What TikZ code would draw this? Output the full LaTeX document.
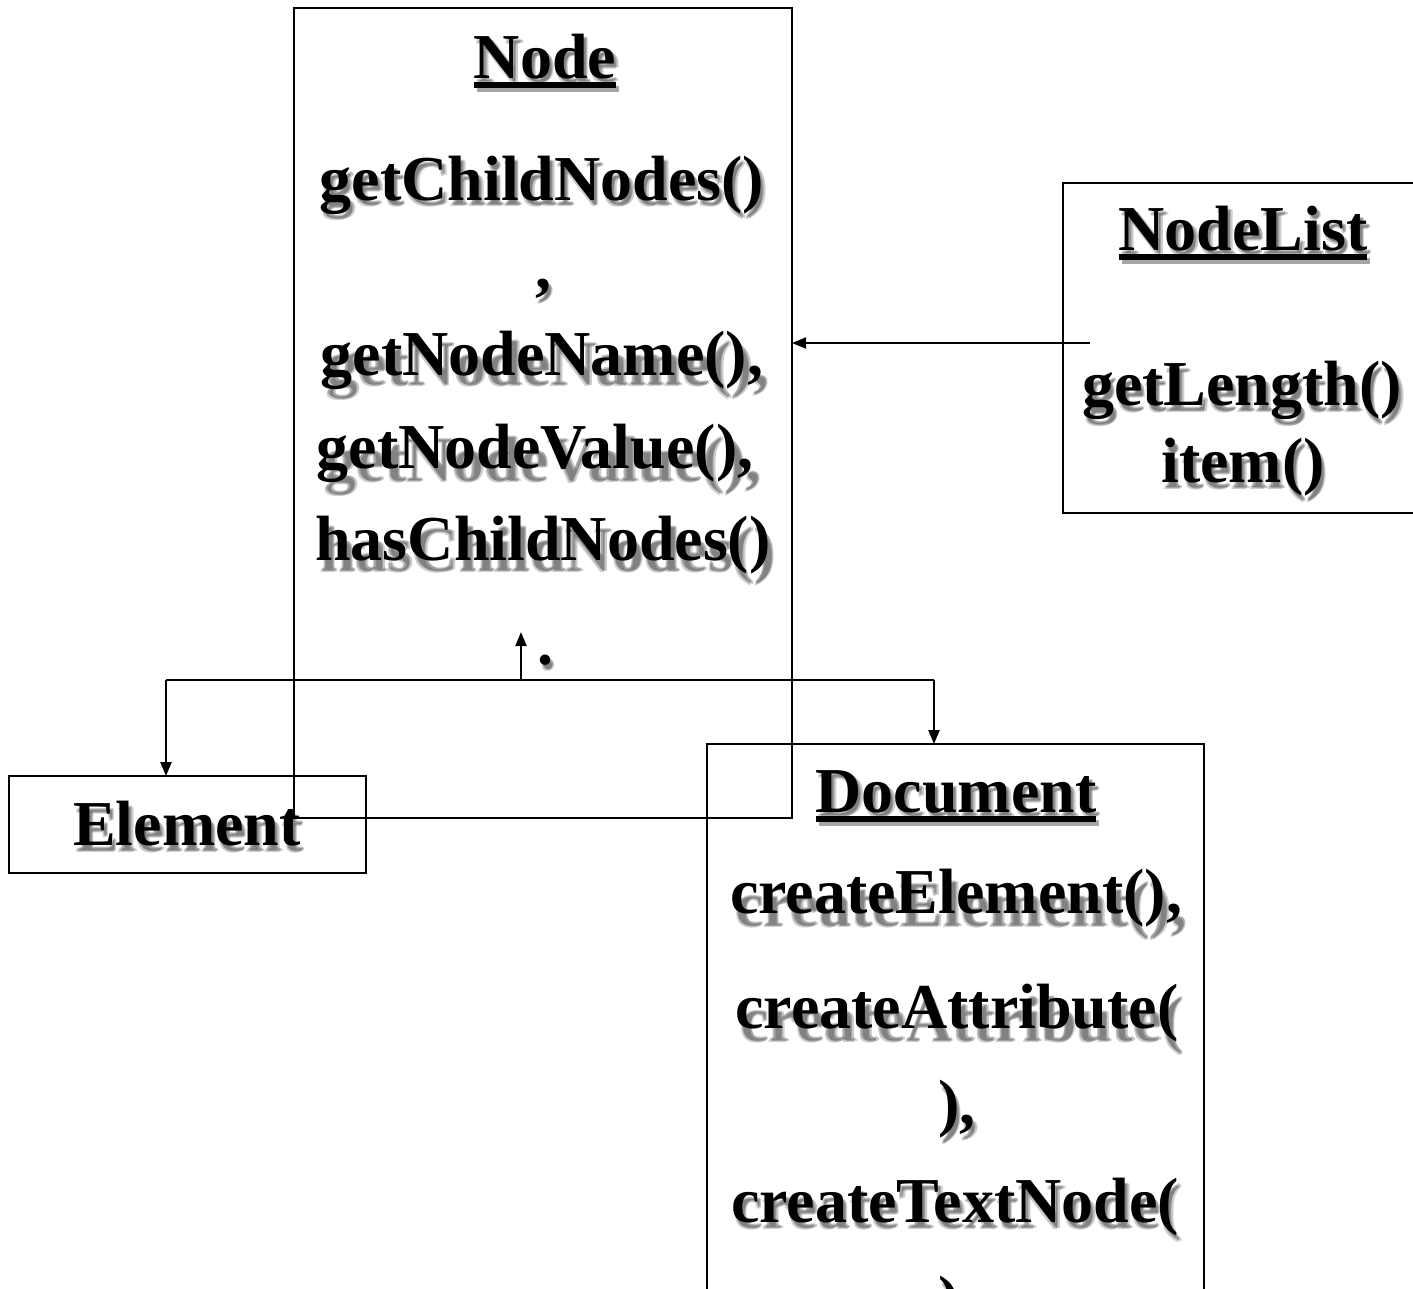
\documentclass[tikz,border=0pt]{standalone}
\usepackage{fontspec}
\setmainfont{Liberation Serif}
\usetikzlibrary{arrows.meta}
\tikzset{
  box/.style={draw=black, line width=1.5pt, inner sep=0pt, outer sep=0pt, anchor=north west},
  txt/.style={font=\fontsize{64}{70}\selectfont\bfseries, inner sep=0pt, outer sep=0pt, anchor=base},
  shd/.style={txt, text=black, text opacity=0.2},
  ln/.style={line width=2.2pt},
  arr/.style={line width=2.2pt, -{Triangle[length=14pt,width=11pt]}},
}
% name, x, y, dx, dy, text
\newcommand\sline[6]{%
  \node[shd] (#1a) at (#2+#4,#3+#5) {#6};
  \node[shd] (#1b) at (#2+#4+1.5,#3+#5+1.5) {#6};
  \node[shd] (#1c) at (#2+#4-1,#3+#5+2.5) {#6};
  \node[txt] (#1) at (#2,#3) {#6};
}
\newcommand\uline[1]{%
  \draw[line width=6pt, black!35] ([xshift=3pt,yshift=-11pt]#1.base west) -- ([xshift=3pt,yshift=-11pt]#1.base east);
  \draw[line width=6pt] ([yshift=-7pt]#1.base west) -- ([yshift=-7pt]#1.base east);
}
\begin{document}
\begin{tikzpicture}[x=1pt, y=-1pt]
\useasboundingbox (0,0) rectangle (1413,1288);
\clip (0,0) rectangle (1413,1288);
% boxes
\node[box, minimum width=357pt, minimum height=97pt] (element) at (9,776) {};
\node[box, minimum width=497pt, minimum height=600pt] (document) at (707,744) {};
\node[box, minimum width=400pt, minimum height=330pt] (nodelist) at (1063,183) {};
\node[box, minimum width=498pt, minimum height=810pt] (node) at (294,8) {};
% connectors
\coordinate (nlstart) at (1090,343);
\draw[arr] (nlstart) -- (node.east |- nlstart);
\coordinate (jL) at (166,680);
\coordinate (jM) at (521,680);
\coordinate (jR) at (934,680);
\coordinate (upTip) at (521,632);
\draw[ln] (jL) -- (jR);
\draw[arr] (jM) -- (upTip);
\draw[arr] (jL) -- (jL |- element.north);
\draw[arr] (jR) -- (jR |- document.north);
% Node texts
\sline{ntitle}{545}{78}{3}{3}{Node}
\uline{ntitle}
\sline{n1}{542}{200}{3}{4}{getChildNodes()}
\sline{n2}{543}{288}{3}{4}{,}
\sline{n3}{542}{375}{6}{9}{getNodeName(),}
\sline{n4}{535}{468}{8}{12}{getNodeValue(),}
\sline{n5}{543}{560}{5}{10}{hasChildNodes()}
\sline{n6}{545}{664}{3}{4}{.}
% NodeList texts
\sline{ltitle}{1243}{250}{3}{3}{NodeList}
\uline{ltitle}
\sline{l1}{1242}{405}{3}{5}{getLength()}
\sline{l2}{1243}{482}{3}{5}{item()}
% Element
\sline{e1}{187}{845}{3}{5}{Element}
% Document texts
\sline{dtitle}{956}{812}{3}{3}{Document}
\uline{dtitle}
\sline{d1}{956}{913}{5}{12}{createElement(),}
\sline{d2}{957}{1028}{5}{12}{createAttribute(}
\sline{d3}{957}{1124}{3}{5}{),}
\sline{d4}{955}{1222}{3}{5}{createTextNode(}
\sline{d5}{957}{1320}{3}{5}{),}
\end{tikzpicture}
\end{document}
